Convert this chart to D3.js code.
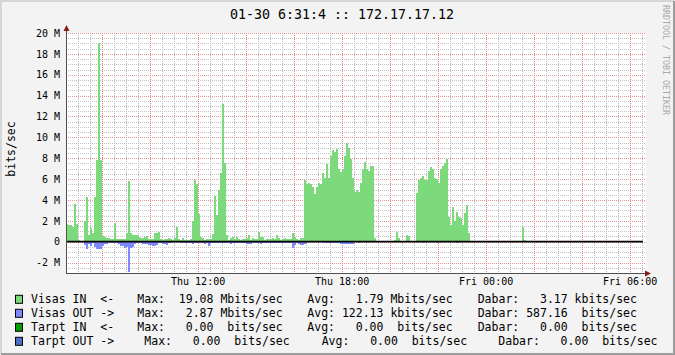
<!DOCTYPE html>
<html>
<head>
<meta charset="utf-8">
<script src="https://cdn.jsdelivr.net/npm/d3@7/dist/d3.min.js"></script>
<style>
  body { margin: 0; background: #f3f3f3; }
  svg { display: block; }
  text { font-family: "DejaVu Sans Mono", monospace; fill: #000; }
</style>
</head>
<body>
<svg id="graph"></svg>
<script>
// 5-minute samples, Mbits/sec, starting Thu 06:31
var visasIn = [
  1.66,1.56,1.56,1.43,3.57,1.66,0.13,0,0,2.00,
  4.27,0.64,1.30,0.86,4.30,7.80,19.08,7.80,0.55,0.48,
  0.32,0.32,0.29,0.29,1.75,0.29,0.29,0.22,0.22,0.22,
  0.86,5.77,0.86,0.60,0.60,0.60,0.48,0.40,0.32,0.48,
  0.54,0.22,0.22,0.29,0.86,0.86,0.96,0.29,0.16,0.29,
  0.22,0.35,0.29,0.16,0.38,1.40,0.22,0.16,0.38,0.16,
  0.20,0.20,0.25,2.00,5.87,5.55,2.68,0.48,0.38,0.16,
  0.22,0.22,0.29,0.70,4.37,2.52,5.00,6.54,13.20,7.50,
  0.64,0.16,0.38,0.48,0.29,0.45,0.29,0.16,0.29,0.22,
  0.35,0.60,0.16,0.38,0.29,0.22,0.92,0.48,0.42,0.16,
  0.29,0.25,0.22,0.35,0.22,0.60,0.35,0.16,0.22,0.40,
  0.29,0.22,0.29,0.80,0.48,0.22,0.16,0.35,0.35,5.87,
  5.55,5.65,5.55,5.23,4.53,5.26,5.58,5.55,6.54,6.06,
  7.40,6.06,8.26,8.74,8.58,8.84,6.99,6.67,6.92,8.26,
  9.47,8.96,7.94,6.12,4.75,5.00,4.75,5.65,6.99,7.66,
  6.99,6.76,7.30,7.30,0.38,0,0,0,0,0,
  0,0,0,0,0.20,0.90,0.32,0,0,0,
  0.67,0.50,0,0,0,4.63,5.87,6.06,6.25,5.87,
  5.87,6.73,7.18,6.92,6.06,5.97,5.65,6.99,7.30,7.56,
  7.97,2.36,1.63,3.35,1.95,2.87,2.39,2.26,1.63,2.71,
  3.54,0.80,0,0,0,0,0,0,0,0,
  0,0,0,0,0,0,0,0,0,0,
  0,0,0,0,0,0,0,0,1.37,0.13,
  0,0,0,0,0,0,0,0,0,0,
  0,0,0,0,0,0,0,0,0,0,
  0,0,0,0,0,0,0,0,0,0,
  0,0,0,0,0,0,0,0,0,0,
  0,0,0,0,0,0,0,0,0,0,
  0,0,0,0,0,0,0,0
];

// outgoing, drawn below the zero line
var visasOut = [
  0,0,0,0,0,0,0,0,0,0.32,
  0.67,0.26,0.41,0.13,0.50,0.73,0.67,0.73,0.40,0.25,
  0.20,0.13,0.13,0.10,0.10,0.10,0.20,0.38,0.41,0.60,
  0.50,2.87,0.60,0.50,0.26,0.10,0.10,0.10,0.22,0.22,
  0.26,0.30,0.30,0.41,0.41,0.32,0.13,0.13,0.22,0.22,
  0.30,0.16,0.16,0.06,0.06,0.06,0.06,0.16,0.16,0.16,
  0.13,0.10,0.13,0.20,0.16,0.13,0.10,0.16,0.10,0.20,
  0.13,0.38,0.16,0.13,0.10,0.13,0.10,0.16,0.16,0.13,
  0.10,0.13,0.20,0.10,0.13,0.10,0.16,0.13,0.10,0.10,
  0.22,0.26,0.22,0.13,0.10,0.10,0.16,0.20,0.13,0.10,
  0.13,0.10,0.10,0.10,0.13,0.10,0.10,0.16,0.10,0.13,
  0.10,0.10,0.13,0.60,0.30,0.13,0.20,0.35,0.35,0.25,
  0.10,0.06,0.06,0.06,0.06,0.06,0.06,0.06,0.13,0.13,
  0.13,0.13,0.13,0.13,0.13,0.13,0.13,0.20,0.20,0.20,
  0.20,0.20,0.20,0.20,0.06,0.06,0.10,0.06,0.06,0.06,
  0.06,0.06,0.06,0.06,0.06,0,0,0,0,0,
  0,0,0,0,0,0,0,0,0,0,
  0,0,0,0,0,0,0,0,0.10,0,
  0,0,0,0,0,0.10,0,0,0,0,
  0,0,0,0,0,0.10,0,0,0,0
];

var yTicks = [-2, 0, 2, 4, 6, 8, 10, 12, 14, 16, 18, 20];
var xTickLabels = ["Thu 12:00", "Thu 18:00", "Fri 00:00", "Fri 06:00"];

var legendNames = ["Visas IN  <-", "Visas OUT ->", "Tarpt IN  <-", "Tarpt OUT ->"];
var legendColors = ["#7cda7c", "#8088ff", "#00a000", "#5070c8"];
var maxVals = [19.08, 2.87, 0, 0],   maxUnits = ["M", "M", " ", " "];
var avgVals = [1.79, 122.13, 0, 0],  avgUnits = ["M", "k", " ", " "];
var curVals = [3.17, 587.16, 0, 0],  curUnits = ["k", " ", " ", " "];

var title = "01-30 6:31:4 :: 172.17.17.12";

var W = 675, H = 355;
var start = new Date(2003, 0, 30, 6, 31),
    end = new Date(2003, 0, 31, 6, 31),
    step = 5 * 60 * 1000;

var x = d3.scaleTime().domain([start, end]).range([66, 642]);
var y = d3.scaleLinear().domain([-3, 20]).range([273, 33]);

var svg = d3.select("#graph").attr("width", W).attr("height", H);

// canvas + 3d frame
svg.append("rect").attr("width", W).attr("height", H).attr("fill", "#f3f3f3");
svg.append("path").attr("d", "M1,354 V1 H674").attr("fill", "none").attr("stroke", "#d6d6d6").attr("stroke-width", 2);
svg.append("path").attr("d", "M1,354 H674 V1").attr("fill", "none").attr("stroke", "#9c9c9c").attr("stroke-width", 2);

// plot area
svg.append("rect")
    .attr("x", 66).attr("y", 33)
    .attr("width", 580).attr("height", 240)
    .attr("fill", "#ffffff");

// grid: minor every 30 min / 0.5 M, major every 2 hours / 2 M
var minorT = d3.timeMinute.every(30).range(start, new Date(+end + 4 * 60 * 1000))
    .filter(function(d) { return d.getMinutes() !== 0 || d.getHours() % 2 !== 0; });
var majorT = d3.timeHour.every(2).range(start, end);
var hminor = d3.range(-3, 20.01, 0.5).filter(function(v) { return v % 2 !== 0; });

function vlines(data, color) {
  svg.append("g").selectAll("line").data(data)
    .enter().append("line")
      .attr("x1", function(d) { return Math.round(x(d)) + 0.5; })
      .attr("x2", function(d) { return Math.round(x(d)) + 0.5; })
      .attr("y1", 33).attr("y2", 273)
      .attr("stroke", color).attr("stroke-dasharray", "1,1")
      .attr("shape-rendering", "crispEdges");
}
function hlines(data, color) {
  svg.append("g").selectAll("line").data(data)
    .enter().append("line")
      .attr("x1", 66).attr("x2", 646)
      .attr("y1", function(d) { return Math.round(y(d)) + 0.5; })
      .attr("y2", function(d) { return Math.round(y(d)) + 0.5; })
      .attr("stroke", color).attr("stroke-dasharray", "1,1")
      .attr("shape-rendering", "crispEdges");
}
vlines(minorT, "#b4b4b4");
hlines(hminor, "#c4c4c4");
vlines(majorT, "#dc8080");
hlines(yTicks, "#e49494");

// bars
var bars = svg.append("g").attr("shape-rendering", "crispEdges");
function barX(i) { return x(new Date(+start + i * step)); }

bars.selectAll(".in").data(visasIn.map(function(v, i) { return {v: v, i: i}; }).filter(function(d) { return d.v > 0; }))
  .enter().append("rect")
    .attr("x", function(d) { return barX(d.i); })
    .attr("width", function(d) { return barX(d.i + 1) - barX(d.i); })
    .attr("y", function(d) { return y(d.v); })
    .attr("height", function(d) { return y(0) - y(d.v); })
    .attr("fill", legendColors[0]);

bars.selectAll(".out").data(visasOut.map(function(v, i) { return {v: v, i: i}; }).filter(function(d) { return d.v > 0; }))
  .enter().append("rect")
    .attr("x", function(d) { return barX(d.i); })
    .attr("width", function(d) { return barX(d.i + 1) - barX(d.i); })
    .attr("y", y(0))
    .attr("height", function(d) { return y(-d.v) - y(0); })
    .attr("fill", legendColors[1]);

// zero rule
svg.append("line")
    .attr("x1", 66).attr("x2", 643)
    .attr("y1", y(0)).attr("y2", y(0))
    .attr("stroke", "#000").attr("stroke-width", 1.8);

// axes lines + arrows
svg.append("line").attr("x1", 66.5).attr("x2", 66.5).attr("y1", 273).attr("y2", 29)
    .attr("stroke", "#505050");
svg.append("line").attr("x1", 66).attr("x2", 646).attr("y1", 273.5).attr("y2", 273.5)
    .attr("stroke", "#505050");
svg.append("path").attr("d", "M63.5,31 L69.5,31 L66.5,25 Z").attr("fill", "#8b1a1a");
svg.append("path").attr("d", "M645,270.5 L645,276.5 L651,273.5 Z").attr("fill", "#8b1a1a");

// y axis labels
var yAxis = d3.axisLeft(y)
    .tickValues(yTicks)
    .tickSize(0)
    .tickPadding(6)
    .tickFormat(function(v) { return v === 0 ? "0" : v + " M"; });

svg.append("g")
    .attr("transform", "translate(66,0)")
    .call(yAxis)
    .call(function(g) { g.select(".domain").remove(); })
    .selectAll("text")
      .attr("font-family", "DejaVu Sans Mono, monospace")
      .attr("font-size", "10px")
      .attr("fill", "#000");

// x axis labels
var xTickDates = [new Date(2003, 0, 30, 12), new Date(2003, 0, 30, 18),
                  new Date(2003, 0, 31, 0), new Date(2003, 0, 31, 6)];
var xAxis = d3.axisBottom(x)
    .tickValues(xTickDates)
    .tickSize(0)
    .tickPadding(5)
    .tickFormat(function(d, i) { return xTickLabels[i]; });

svg.append("g")
    .attr("transform", "translate(0,273)")
    .call(xAxis)
    .call(function(g) { g.select(".domain").remove(); })
    .selectAll("text")
      .attr("font-family", "DejaVu Sans Mono, monospace")
      .attr("font-size", "10px")
      .attr("fill", "#000");

// title
svg.append("text")
    .attr("x", 342).attr("y", 18.5)
    .attr("text-anchor", "middle")
    .attr("font-size", "13.3px")
    .text(title);

// vertical axis label
svg.append("text")
    .attr("transform", "translate(15,149) rotate(-90)")
    .attr("text-anchor", "middle")
    .attr("font-size", "11.5px")
    .text("bits/sec");

// watermark
svg.append("text")
    .attr("transform", "translate(663,60) rotate(90)")
    .attr("text-anchor", "middle")
    .attr("font-size", "8.3px")
    .style("fill", "#a8a8a8")
    .text("RRDTOOL / TOBI OETIKER");

// legend
var f = d3.format(">6.2f");
var legendCols = [[137.3, 307.3, 477.7], [137.3, 307.3, 477.7], [137.3, 307.3, 477.7], [144.3, 321.7, 498.3]];
var legend = svg.append("g");

legendNames.forEach(function(name, i) {
  var base = 303.3 + i * 14;
  legend.append("rect")
      .attr("x", 15.5).attr("y", base - 8)
      .attr("width", 7).attr("height", 8)
      .attr("fill", legendColors[i])
      .attr("stroke", "#000");

  var segs = [
    [31, name],
    [legendCols[i][0], "Max: " + f(maxVals[i]) + " " + maxUnits[i] + "bits/sec"],
    [legendCols[i][1], "Avg: " + f(avgVals[i]) + " " + avgUnits[i] + "bits/sec"],
    [legendCols[i][2], "Dabar: " + f(curVals[i]) + " " + curUnits[i] + "bits/sec"]
  ];
  segs.forEach(function(s) {
    legend.append("text")
        .attr("x", s[0]).attr("y", base)
        .attr("font-size", "11.5px")
        .style("white-space", "pre")
        .text(s[1]);
  });
});
</script>
</body>
</html>
